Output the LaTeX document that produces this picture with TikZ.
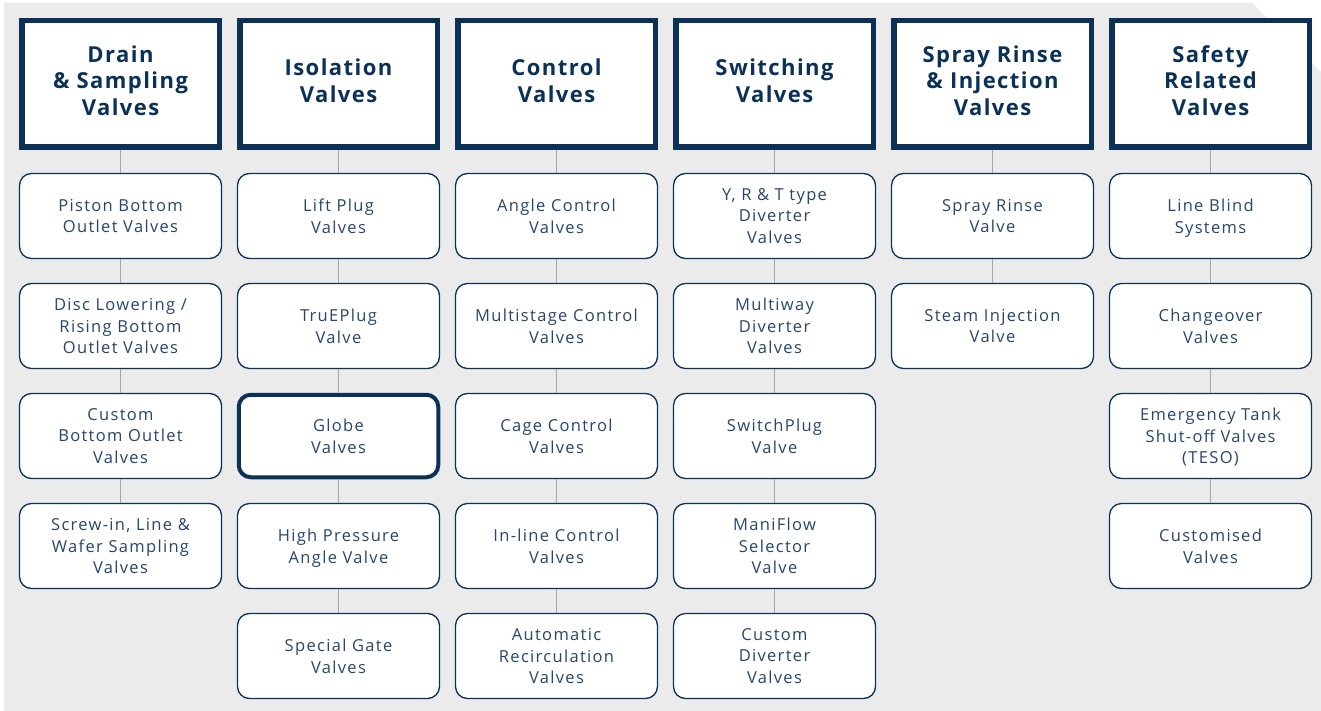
\documentclass[tikz,border=0pt]{standalone}
\usepackage{fontspec}
\setmainfont{Open Sans}[LetterSpace=8]
\newfontfamily\headfont{Open Sans}[LetterSpace=6.5]
\definecolor{navy}{HTML}{0B3157}
\definecolor{txt}{HTML}{27466A}
\definecolor{bggray}{HTML}{EBEBEB}
\definecolor{linegray}{HTML}{A6A6A6}
\tikzset{
  head/.style={draw=navy, line width=5.5pt, fill=white, minimum width=197.5pt, minimum height=126.5pt, inner sep=0pt, align=center, text=navy, font=\headfont\fontsize{22}{26.5}\selectfont\bfseries, execute at end node={\rule[-7pt]{0pt}{0pt}}},
  item/.style={draw=navy, line width=1.3pt, fill=white, rounded corners=12pt, minimum width=202pt, minimum height=85pt, inner sep=0pt, align=center, text=txt, text depth=0pt, font=\fontsize{16.5}{21.5}\selectfont},
  hl/.style={line width=4pt, minimum width=199.5pt, minimum height=82.5pt},
  conn/.style={draw=linegray, line width=1.3pt}
}
\begin{document}
\begin{tikzpicture}[x=1pt,y=-1pt]
\useasboundingbox (0,0) rectangle (1321,711);
\fill[white] (0,0) rectangle (1321,711);
\fill[bggray] (4,3) -- (1252,3) -- (1321,72) -- (1321,711) -- (4,711) -- cycle;
% headers
\node[head] (h1) at (120.5,84) {Drain\\\& Sampling\\Valves};
\node[head] (h2) at (338.5,84) {Isolation\\Valves};
\node[head] (h3) at (556.5,84) {Control\\Valves};
\node[head] (h4) at (774.5,84) {Switching\\Valves};
\node[head] (h5) at (992.5,84) {Spray Rinse\\\& Injection\\Valves};
\node[head] (h6) at (1210.5,84) {Safety\\Related\\Valves};
% column 1
\node[item] (a1) at (120.5,216) {Piston Bottom\\Outlet Valves};
\node[item] (a2) at (120.5,326) {Disc Lowering /\\Rising Bottom\\Outlet Valves};
\node[item] (a3) at (120.5,436) {Custom\\Bottom Outlet\\Valves};
\node[item] (a4) at (120.5,546) {Screw-in, Line \&\\Wafer Sampling\\Valves};
% column 2
\node[item] (b1) at (338.5,216) {Lift Plug\\Valves};
\node[item] (b2) at (338.5,326) {TruEPlug\\Valve};
\node[item,hl] (b3) at (338.5,436) {Globe\\Valves};
\node[item] (b4) at (338.5,546) {High Pressure\\Angle Valve};
\node[item] (b5) at (338.5,656) {Special Gate\\Valves};
% column 3
\node[item] (c1) at (556.5,216) {Angle Control\\Valves};
\node[item] (c2) at (556.5,326) {Multistage Control\\Valves};
\node[item] (c3) at (556.5,436) {Cage Control\\Valves};
\node[item] (c4) at (556.5,546) {In-line Control\\Valves};
\node[item] (c5) at (556.5,656) {Automatic\\Recirculation\\Valves};
% column 4
\node[item] (d1) at (774.5,216) {Y, R \& T type\\Diverter\\Valves};
\node[item] (d2) at (774.5,326) {Multiway\\Diverter\\Valves};
\node[item] (d3) at (774.5,436) {SwitchPlug\\Valve};
\node[item] (d4) at (774.5,546) {ManiFlow\\Selector\\Valve};
\node[item] (d5) at (774.5,656) {Custom\\Diverter\\Valves};
% column 5
\node[item] (e1) at (992.5,216) {Spray Rinse\\Valve};
\node[item] (e2) at (992.5,326) {Steam Injection\\Valve};
% column 6
\node[item] (f1) at (1210.5,216) {Line Blind\\Systems};
\node[item] (f2) at (1210.5,326) {Changeover\\Valves};
\node[item] (f3) at (1210.5,436) {Emergency Tank\\Shut-off Valves\\(TESO)};
\node[item] (f4) at (1210.5,546) {Customised\\Valves};
% connectors
\foreach \u/\v in {h1/a1,a1/a2,a2/a3,a3/a4,h2/b1,b1/b2,b2/b3,b3/b4,b4/b5,h3/c1,c1/c2,c2/c3,c3/c4,c4/c5,h4/d1,d1/d2,d2/d3,d3/d4,d4/d5,h5/e1,e1/e2,h6/f1,f1/f2,f2/f3,f3/f4}
  \draw[conn] (\u.south) -- (\v.north);
\end{tikzpicture}
\end{document}
